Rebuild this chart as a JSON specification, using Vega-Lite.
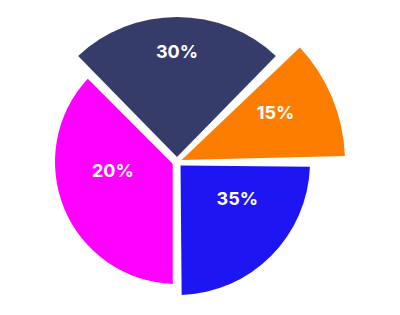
{
  "$schema": "https://vega.github.io/schema/vega-lite/v6.json",
  "autosize": {"type": "fit", "contains": "padding"},
  "width": 400,
  "height": 315,
  "padding": {"left": 0, "right": 46, "top": 9, "bottom": 0},
  "background": "white",
  "view": {"stroke": null},
  "data": {
    "values": [
      {"segment": "A", "label": "30%", "share": 25, "r": 145},
      {"segment": "B", "label": "15%", "share": 12.5, "r": 168},
      {"segment": "C", "label": "35%", "share": 25, "r": 133},
      {"segment": "D", "label": "20%", "share": 37.5, "r": 122}
    ]
  },
  "transform": [
    {"stack": "share", "groupby": [], "sort": [{"field": "segment", "order": "ascending"}], "as": ["t0", "t1"]},
    {"calculate": "(datum.t0 + datum.t1) / 2", "as": "tmid"}
  ],
  "layer": [
    {
      "mark": {"type": "arc", "padAngle": 0.07, "innerRadius": 5},
      "encoding": {
        "theta": {"field": "t0", "type": "quantitative",
          "scale": {"domain": [0, 100], "range": [-0.7853982, 5.4977871]}},
        "theta2": {"field": "t1"},
        "radius": {"field": "r", "type": "quantitative",
          "scale": {"type": "linear", "domain": [0, 170], "range": [0, 170], "zero": true}},
        "color": {"field": "segment", "type": "nominal", "legend": null,
          "scale": {"domain": ["A", "B", "C", "D"], "range": ["#363c6a", "#fd7d00", "#1d16f3", "#fe00fe"]}}
      }
    },
    {
      "mark": {"type": "text", "font": "Inter", "fontWeight": "bold", "fontSize": 18, "color": "white", "align": "center", "baseline": "middle"},
      "encoding": {
        "theta": {"field": "tmid", "type": "quantitative",
          "scale": {"type": "linear", "domain": [12.5, 31.25, 50, 81.25], "range": [0, 1.117, 2.129, 4.555], "zero": false}},
        "radius": {"field": "r", "type": "quantitative",
          "scale": {"type": "linear", "domain": [122, 133, 145], "range": [65, 71, 109.5], "clamp": true, "zero": false}},
        "text": {"field": "label"}
      }
    }
  ],
  "resolve": {"scale": {"radius": "independent", "theta": "independent"}}
}
